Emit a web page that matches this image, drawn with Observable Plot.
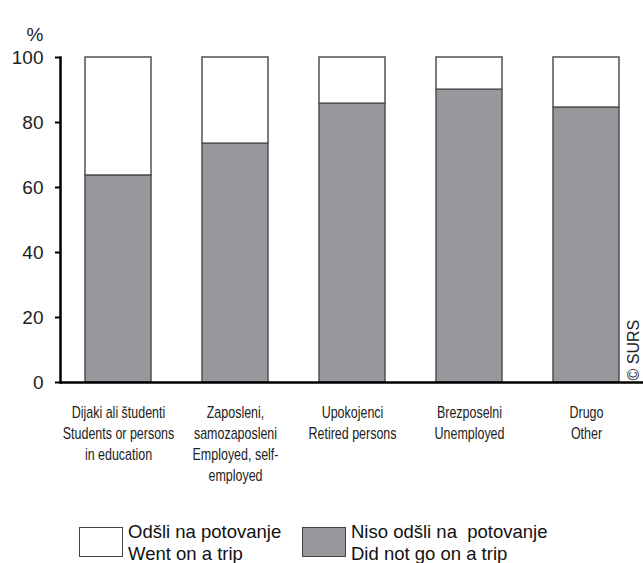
<!DOCTYPE html>
<html>
<head>
<meta charset="utf-8">
<script src="https://cdn.jsdelivr.net/npm/d3@7"></script>
<script src="https://cdn.jsdelivr.net/npm/@observablehq/plot@0.6"></script>
<style>
  html, body { margin: 0; padding: 0; background: #fff; }
  #wrap { width: 643px; position: relative; font-family: "Liberation Sans", Arial, sans-serif; }
  #legend { position: relative; height: 63px; }
  .box { position: absolute; width: 44px; height: 30px; border: 1px solid #444; box-sizing: border-box; }
  .ltxt { position: absolute; font-size: 18.5px; line-height: 22px; color: #111; white-space: pre; }
</style>
</head>
<body>
<div id="wrap">
  <div id="chart"></div>
  <div id="legend"></div>
</div>
<script>
const categories = [
  "Dijaki ali študenti\nStudents or persons\nin education",
  "Zaposleni,\nsamozaposleni\nEmployed, self-\nemployed",
  "Upokojenci\nRetired persons",
  "Brezposelni\nUnemployed",
  "Drugo\nOther"
];
const notWent = [63.7, 73.5, 85.8, 90.1, 84.6];
const went = [36.3, 26.5, 14.2, 9.9, 15.4];
const seriesNames = ["Niso odšli na  potovanje\nDid not go on a trip", "Odšli na potovanje\nWent on a trip"];
const seriesColors = ["#96989b", "#ffffff"];
const yTicks = [0, 20, 40, 60, 80, 100];

const rows = [];
categories.forEach((c, i) => {
  rows.push({cat: c, series: seriesNames[0], value: notWent[i]});
  rows.push({cat: c, series: seriesNames[1], value: went[i]});
});

const chart = Plot.plot({
  width: 643,
  height: 500,
  marginTop: 57,
  marginBottom: 118,
  marginLeft: 60,
  marginRight: 0,
  style: {fontFamily: "'Liberation Sans', Arial, sans-serif", background: "#fff"},
  x: {domain: categories, paddingInner: 0.44, paddingOuter: 0.21, axis: null},
  y: {domain: [0, 100], axis: null},
  color: {domain: seriesNames, range: seriesColors},
  marks: [
    Plot.barY(rows, Plot.stackY({x: "cat", y: "value", fill: "series", order: seriesNames, stroke: "#505050", strokeWidth: 1.5})),
    Plot.frame({anchor: "left", stroke: "#000", strokeWidth: 2.5}),
    Plot.axisY({ticks: yTicks, tickSize: 5, tickPadding: 12, fontSize: 19, stroke: "#000", strokeWidth: 2, label: null, color: "#222"}),
    Plot.ruleY([0], {stroke: "#000", strokeWidth: 2.5}),
    Plot.axisX({tickSize: 0, tickPadding: 21, fontSize: 16, lineHeight: 1.3, label: null, color: "#222"}),
    Plot.text(["%"], {frameAnchor: "top-left", dx: -17, dy: -30, textAnchor: "end", fontSize: 19, fill: "#222"}),
    Plot.text(["© SURS"], {frameAnchor: "bottom-right", dx: -5, dy: -2, rotate: -90, textAnchor: "start", fontSize: 16, fill: "#222"})
  ]
});
// condense the category labels horizontally (the original uses a narrow typeface)
chart.querySelectorAll('g[aria-label="x-axis tick label"] text').forEach(t => {
  const tr = t.getAttribute("transform") || "";
  t.setAttribute("transform", tr + " scale(0.78,1)");
});
document.getElementById("chart").appendChild(chart);

// legend (HTML below the SVG)
const legend = document.getElementById("legend");
const legendOrder = [1, 0];
const lx = [79, 302];
legendOrder.forEach((si, k) => {
  const b = document.createElement("div");
  b.className = "box";
  b.style.left = lx[k] + "px";
  b.style.top = "27px";
  b.style.background = seriesColors[si];
  legend.appendChild(b);
  const t = document.createElement("div");
  t.className = "ltxt";
  t.style.left = (lx[k] + 49) + "px";
  t.style.top = "21px";
  t.textContent = seriesNames[si];
  legend.appendChild(t);
});
</script>
</body>
</html>
